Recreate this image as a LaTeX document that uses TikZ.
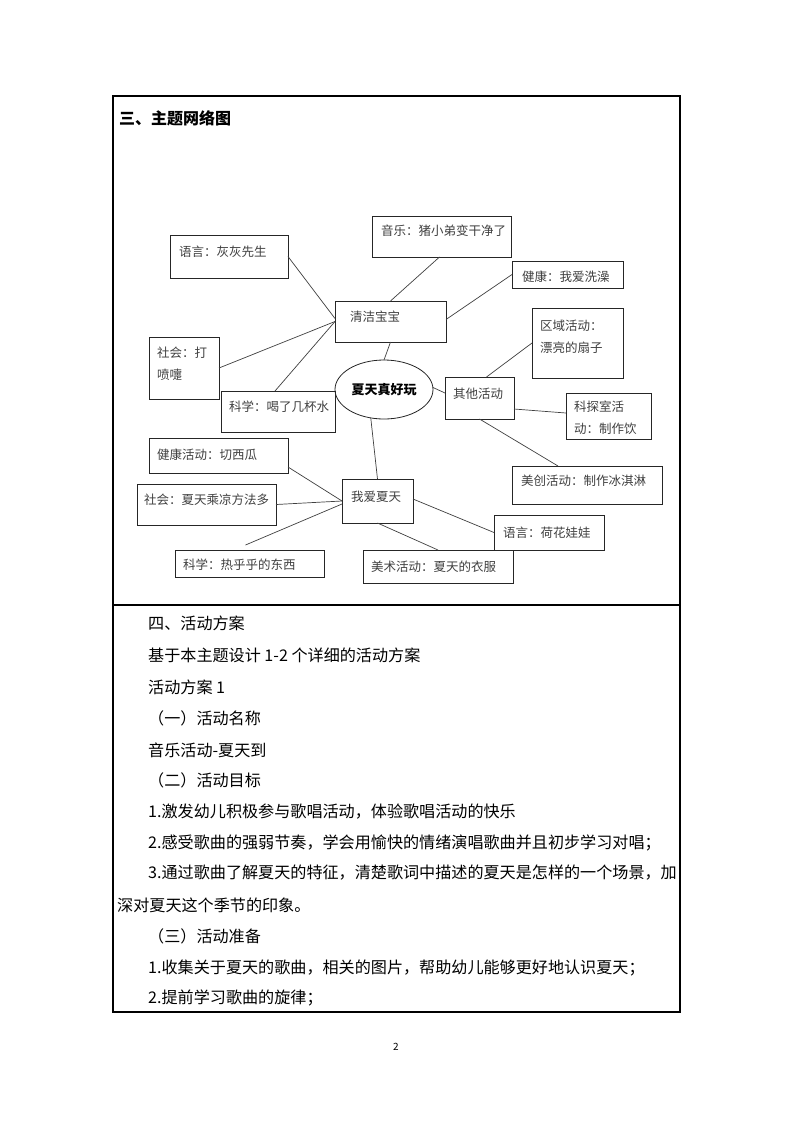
\documentclass[tikz,border=0pt]{standalone}
\usepackage{fontspec}
\setmainfont{Noto Sans CJK SC}
\usetikzlibrary{shapes.geometric,calc}
\begin{document}
\begin{tikzpicture}[x=1pt,y=-1pt,
  bx/.style 2 args={draw=black!85, line width=0.8pt, rectangle, minimum width=#1, minimum height=#2, inner sep=0pt, outer sep=0pt},
  lab/.style={anchor=west, inner sep=0pt, text=black!75, font=\fontsize{12.5}{22}\selectfont, align=left},
  conn/.style={draw=black!75, line width=0.7pt},
  body/.style={anchor=west, inner sep=0pt, font=\fontsize{16.1}{18}\selectfont}]
\useasboundingbox (0,0) rectangle (793,1122);
\fill[white] (0,0) rectangle (793,1122);
% table frame
\draw[line width=1.1pt] (113,96) rectangle (680,1012);
\draw[line width=1.1pt] (113,605) -- (680,605);
\node[anchor=west, inner sep=0pt, font=\fontsize{16}{18}\selectfont\bfseries] (title) at (119,118) {三、主题网络图};

% boxes
\node[bx={118}{43}] (yy1) at (229,256.5) {};
\node[bx={139}{41}] (yinyue) at (441.5,236.5) {};
\node[bx={111}{27}] (jk1) at (567.5,274.5) {};
\node[bx={111}{41}] (qj) at (390.5,321.5) {};
\node[bx={91}{70}] (qy) at (577.5,343) {};
\node[bx={69}{42}] (qt) at (479.5,398) {};
\node[bx={70}{62}] (sh1) at (184,368) {};
\node[bx={114}{41}] (kx1) at (278,411.5) {};
\node[bx={85}{46}] (kt) at (608.5,416) {};
\node[bx={150}{38}] (mc) at (587,485) {};
\node[bx={139}{35}] (jk2) at (218.5,455.5) {};
\node[bx={139}{41}] (sh2) at (206.5,504.5) {};
\node[bx={71}{44}] (wa) at (377.5,501) {};
\node[bx={149}{27}] (kx2) at (249.5,563.5) {};
\node[bx={150}{33}] (ms) at (438,566.5) {};
\node[bx={110}{35}] (hh) at (549,532.5) {};
\node[draw=black!85, line width=0.8pt, ellipse, minimum width=98, minimum height=59, inner sep=0pt, outer sep=0pt] (center) at (384,389.5) {};

% labels
\node[lab] (t-yy1) at (179,252) {语言：灰灰先生};
\node[lab] (t-yinyue) at (381,231) {音乐：猪小弟变干净了};
\node[lab] (t-jk1) at (522,277) {健康：我爱洗澡};
\node[lab] (t-qj) at (350,317) {清洁宝宝};
\node[lab] (t-qy) at (540,337) {区域活动：\\漂亮的扇子};
\node[lab] (t-qt) at (453,394) {其他活动};
\node[lab] (t-sh1) at (157,364) {社会：打\\喷嚏};
\node[lab] (t-kx1) at (229,407) {科学：喝了几杯水};
\node[lab] (t-kt) at (574,418) {科探室活\\动：制作饮};
\node[lab] (t-mc) at (521,481) {美创活动：制作冰淇淋};
\node[lab] (t-jk2) at (157,455) {健康活动：切西瓜};
\node[lab] (t-sh2) at (144,500) {社会：夏天乘凉方法多};
\node[lab] (t-wa) at (351,497) {我爱夏天};
\node[lab] (t-kx2) at (183,565) {科学：热乎乎的东西};
\node[lab] (t-ms) at (371,567) {美术活动：夏天的衣服};
\node[lab] (t-hh) at (503,533) {语言：荷花娃娃};
\node[anchor=center, inner sep=0pt, font=\fontsize{13}{15}\selectfont\bfseries] (t-center) at (384,390) {夏天真好玩};

% connectors
\draw[conn] (yy1.east) -- ([yshift=3]qj.west);
\draw[conn] ([xshift=-2]yinyue.south) -- (qj.north);
\draw[conn] (jk1.west) -- ([yshift=2]qj.east);
\draw[conn] (sh1.east) -- (qj.west);
\draw[conn] ([xshift=-3]kx1.north) -- (qj.west);
\draw[conn] (qj.south) -- (center.north);
\draw[conn] ([yshift=2]center.east) -- ([yshift=5]qt.west);
\draw[conn] ([xshift=7]qt.north) -- (qy.west);
\draw[conn] ([yshift=-11]qt.east) -- ([yshift=3]kt.west);
\draw[conn] (qt.south) -- ([xshift=-29]mc.north);
\draw[conn] (center.245) -- (wa.north);
\draw[conn] ([yshift=6]jk2.south east) -- (wa.west);
\draw[conn] (sh2.east) -- (wa.west);
\draw[conn] ([xshift=-4,yshift=5]kx2.north) -- ([yshift=-3]wa.west);
\draw[conn] ([yshift=2]wa.east) -- (hh.west);
\draw[conn] (wa.south) -- (ms.north);

% body text
\node[body] (l1) at (148,623) {四、活动方案};
\node[body] (l2) at (148,655) {基于本主题设计 1-2 个详细的活动方案};
\node[body] (l3) at (148,687) {活动方案 1};
\node[body] (l4) at (148,718) {（一）活动名称};
\node[body] (l5) at (148,750) {音乐活动-夏天到};
\node[body] (l6) at (148,780) {（二）活动目标};
\node[body] (l7) at (148,812) {1.激发幼儿积极参与歌唱活动，体验歌唱活动的快乐};
\node[body] (l8) at (148,843) {2.感受歌曲的强弱节奏，学会用愉快的情绪演唱歌曲并且初步学习对唱；};
\node[body] (l9) at (148,873) {3.通过歌曲了解夏天的特征，清楚歌词中描述的夏天是怎样的一个场景，加};
\node[body] (l10) at (117,905) {深对夏天这个季节的印象。};
\node[body] (l11) at (148,936) {（三）活动准备};
\node[body] (l12) at (148,968) {1.收集关于夏天的歌曲，相关的图片，帮助幼儿能够更好地认识夏天；};
\node[body] (l13) at (148,998) {2.提前学习歌曲的旋律；};
\node[inner sep=0pt, font=\fontsize{10}{12}\selectfont] (page) at (396,1047) {2};
\end{tikzpicture}
\end{document}
